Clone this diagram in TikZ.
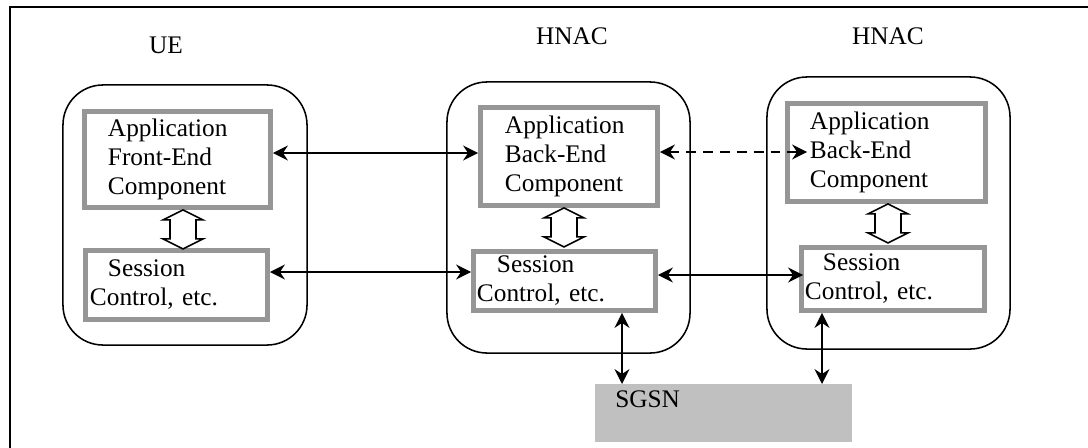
\documentclass[tikz,border=0pt]{standalone}
\usepackage{fontspec}
\setmainfont{Liberation Serif}
\usetikzlibrary{arrows.meta,positioning}
\definecolor{compgray}{RGB}{150,150,150}
\definecolor{sgsngray}{RGB}{192,192,192}
\begin{document}
\begin{tikzpicture}[x=0.025cm,y=-0.025cm,
  every node/.style={font=\fontsize{18}{20.7}\selectfont},
  host/.style={draw,line width=1.1pt,rounded corners=1cm,inner sep=0pt},
  comp/.style={draw=compgray,line width=3.5pt,align=left,inner ysep=0pt},
  hollow/.style={draw,fill=white,line width=1.1pt,line join=miter},
  link/.style={line width=1.4pt,>={Stealth[length=10.6pt,width=10.6pt,inset=3.5pt]},<->}]
\useasboundingbox (0,0) rectangle (1088,448);
\draw[line width=1.5pt] (10,7) rectangle (1100,460);
\node (ueLabel) at (166,45) {UE};
\node (hnacLabelA) at (572,36.5) {HNAC};
\node (hnacLabelB) at (888,36.5) {HNAC};
\node [host,minimum width=6.1cm,minimum height=6.5cm] (ue) at (185,215) {};
\node [host,minimum width=6.075cm,minimum height=6.775cm] (hnacA) at (568.5,217.5) {};
\node [host,minimum width=6.075cm,minimum height=6.8cm] (hnacB) at (888.5,213) {};
\node [comp,inner xsep=0.5875cm,text width=3.475cm,minimum height=2.4cm] (ueApp) at (177.5,159.5)
  {Application\\Front-End\\Component};
\node [comp,inner xsep=0.1125cm,text width=4.325cm,minimum height=1.725cm] (ueSes) at (176.5,285)
  {\hspace*{0.45cm}Session\\Control, etc.};
\node [comp,inner xsep=0.6125cm,text width=3.2cm,minimum height=2.45cm] (beAppA) at (569,156.5)
  {Application\\Back-End\\Component};
\node [comp,inner xsep=0.0875cm,text width=4.375cm,minimum height=1.475cm] (beSesA) at (564.5,281)
  {\hspace*{0.5cm}Session\\Control, etc.};
\node [comp,inner xsep=0.5625cm,text width=3.825cm,minimum height=2.45cm] (beAppB) at (886.5,152.5)
  {Application\\Back-End\\Component};
\node [comp,inner xsep=0.0875cm,text width=4.4cm,minimum height=1.575cm] (beSesB) at (893,279)
  {\hspace*{0.45cm}Session\\Control, etc.};
\node [fill=sgsngray,anchor=north west,align=left,inner xsep=0.5cm,inner ysep=0pt,
  text width=5.425cm,text height=0.575cm,text depth=0.875cm] (sgsn) at (595,384) {SGSN};
\foreach \app/\x in {ueApp/183,beAppA/564,beAppB/888}
  \draw [hollow] (\app.south -| \x,0) -- ++(20,10) -- ++(-7,0) -- ++(0,19) -- ++(7,0)
    -- ++(-20,10) -- ++(-20,-10) -- ++(7,0) -- ++(0,-19) -- ++(-7,0) -- cycle;
\draw [link] (ueApp.east |- 0,153) -- (beAppA.west |- 0,153);
\draw [link,dash pattern=on 7pt off 5pt,shorten >=-0.55cm] (beAppA.east |- 0,152) -- (beAppB.west |- 0,152);
\draw [link] (ueSes.east |- 0,272) -- (beSesA.west |- 0,272);
\draw [link,shorten >=-0.1cm] (beSesA.east |- 0,275) -- (beSesB.west |- 0,275);
\draw [link] (beSesA.south -| 622,0) -- (sgsn.north -| 622,0);
\draw [link] (beSesB.south -| 822,0) -- (sgsn.north -| 822,0);
\end{tikzpicture}
\end{document}
